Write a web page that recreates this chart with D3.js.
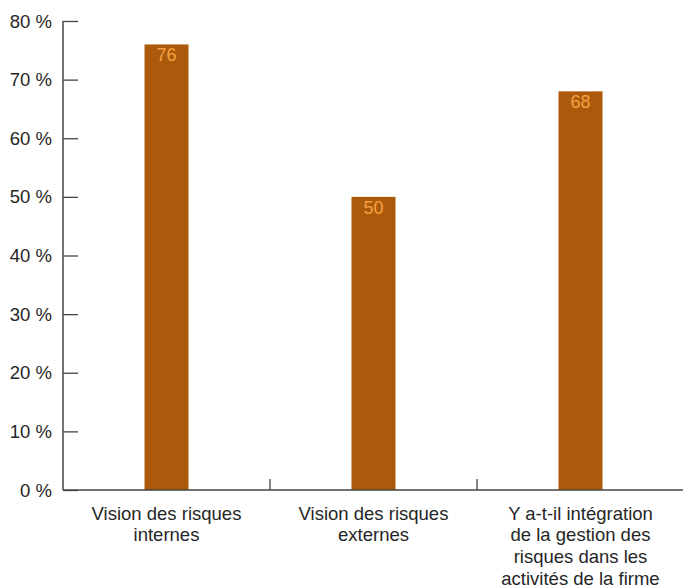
<!DOCTYPE html>
<html>
<head>
<meta charset="utf-8">
<script src="https://cdn.jsdelivr.net/npm/d3@7"></script>
<style>
  html, body { margin: 0; padding: 0; background: #fff; }
  svg text { font-family: "Liberation Sans", Arial, Helvetica, sans-serif; }
</style>
</head>
<body>
<svg id="chart" width="683" height="588"></svg>
<script>
// Categories (each wrapped label line is a separate entry)
const categories = [
  ["Vision des risques", "internes"],
  ["Vision des risques", "externes"],
  ["Y a-t-il intégration", "de la gestion des", "risques dans les", "activités de la firme"]
];
const values = [76, 50, 68];
const yTicks = [0, 10, 20, 30, 40, 50, 60, 70, 80];

const svg = d3.select("#chart");
const m = { left: 63, right: 684, top: 21, bottom: 490 };

const x = d3.scaleBand()
  .domain(d3.range(categories.length))
  .range([m.left, m.right])
  .paddingInner(0)
  .paddingOuter(0);

const y = d3.scaleLinear().domain([0, 80]).range([m.bottom, m.top]);

const barW = 44;
const axisColor = "#444";
const textColor = "#262626";

// Bars
svg.append("g").selectAll("rect")
  .data(values)
  .join("rect")
  .attr("x", (d, i) => x(i) + x.bandwidth() / 2 - barW / 2)
  .attr("y", d => y(d))
  .attr("width", barW)
  .attr("height", d => y(0) - y(d))
  .attr("fill", "#ab5a0b");

// Value labels inside bar tops
svg.append("g").selectAll("text")
  .data(values)
  .join("text")
  .attr("x", (d, i) => x(i) + x.bandwidth() / 2)
  .attr("y", d => y(d) + 17)
  .attr("text-anchor", "middle")
  .attr("font-size", 18)
  .attr("fill", "#f5a142")
  .text(d => d);

// Y axis: ticks point inward (to the right)
const yAxis = d3.axisRight(y)
  .tickValues(yTicks)
  .tickSize(15)
  .tickFormat("");
const gy = svg.append("g").attr("transform", `translate(${m.left},0)`).call(yAxis);
gy.select(".domain").remove();
gy.selectAll(".tick line").attr("stroke", axisColor).attr("stroke-width", 1.3);
svg.append("line")
  .attr("x1", m.left).attr("x2", m.left)
  .attr("y1", y(80)).attr("y2", y(0))
  .attr("stroke", axisColor).attr("stroke-width", 1.5);

// Y tick labels
svg.append("g").selectAll("text")
  .data(yTicks)
  .join("text")
  .attr("x", 52)
  .attr("y", d => y(d) + 6.5)
  .attr("text-anchor", "end")
  .attr("font-size", 18.5)
  .attr("fill", textColor)
  .text(d => d + " %");

// X axis baseline and separators between categories
svg.append("line")
  .attr("x1", m.left).attr("x2", m.right)
  .attr("y1", y(0)).attr("y2", y(0))
  .attr("stroke", axisColor).attr("stroke-width", 1.5);

svg.append("g").selectAll("line")
  .data(d3.range(1, categories.length))
  .join("line")
  .attr("x1", i => x(i)).attr("x2", i => x(i))
  .attr("y1", y(0)).attr("y2", y(0) - 11)
  .attr("stroke", axisColor).attr("stroke-width", 1.3);

// Category labels
const catG = svg.append("g").selectAll("text")
  .data(categories)
  .join("text")
  .attr("text-anchor", "middle")
  .attr("font-size", 18.5)
  .attr("fill", textColor);
catG.each(function(lines, i) {
  d3.select(this).selectAll("tspan")
    .data(lines)
    .join("tspan")
    .attr("x", x(i) + x.bandwidth() / 2)
    .attr("y", (d, k) => 519.5 + k * 21.8)
    .text(d => d);
});
</script>
</body>
</html>
